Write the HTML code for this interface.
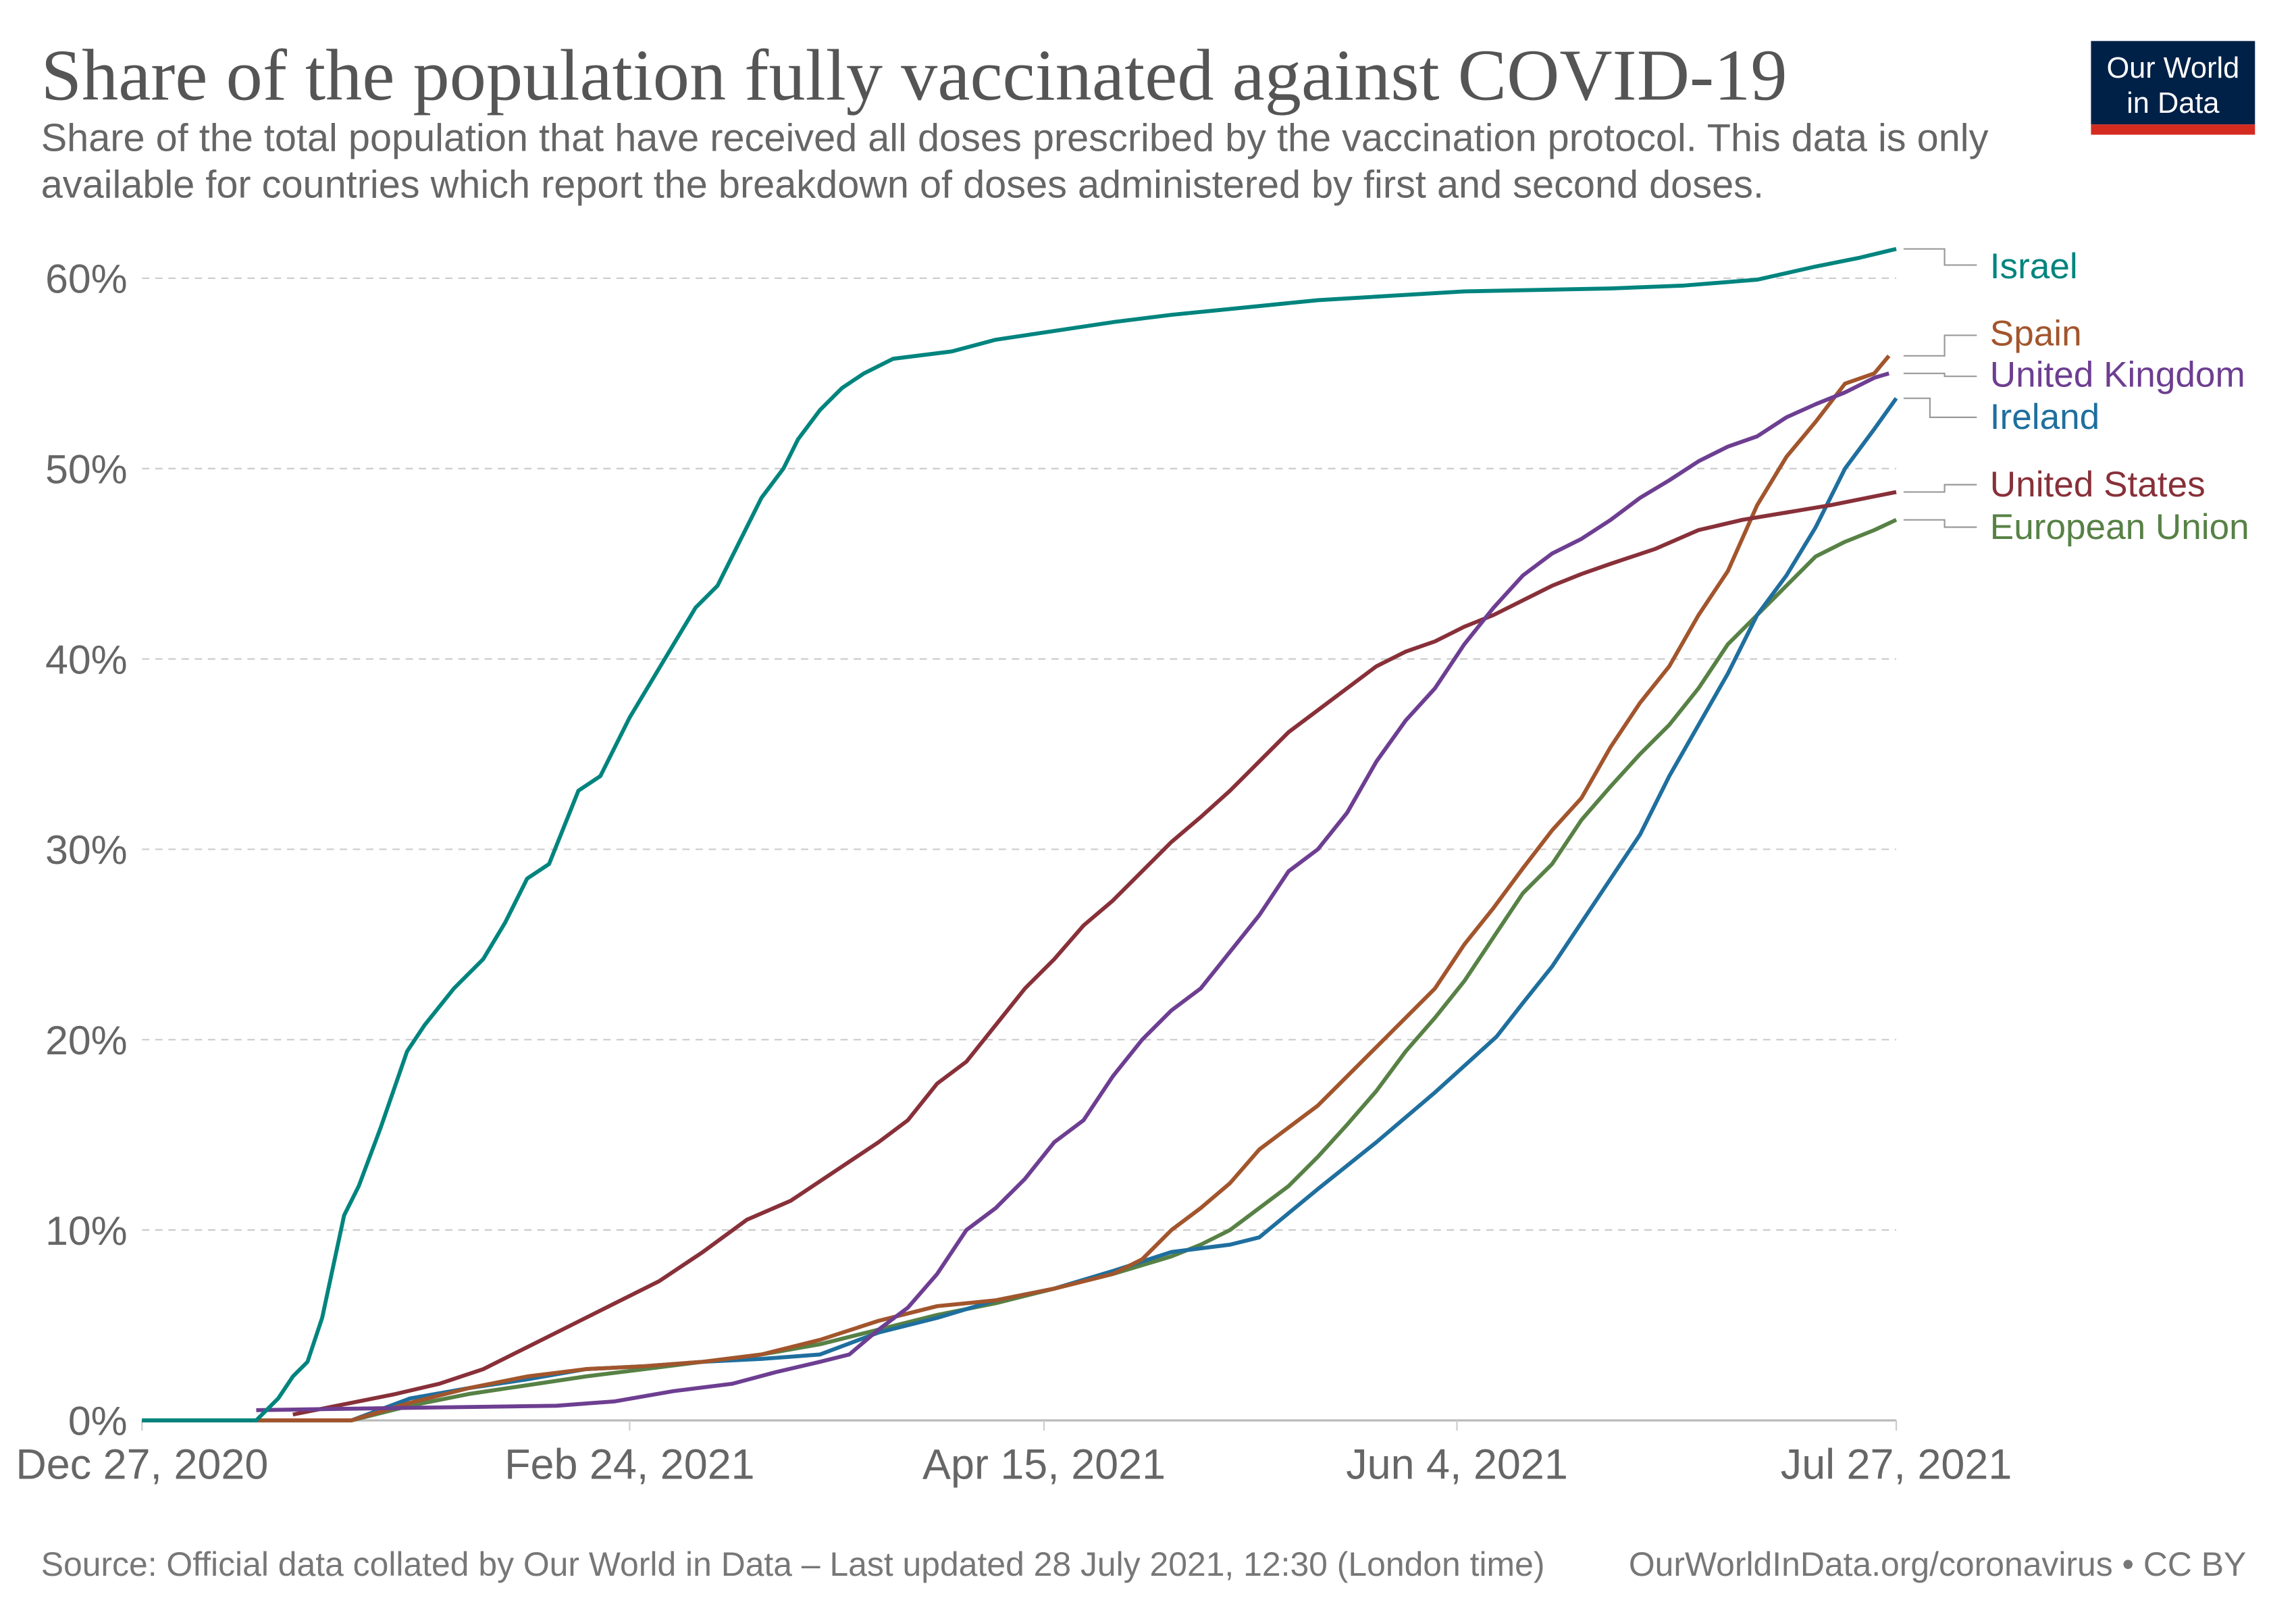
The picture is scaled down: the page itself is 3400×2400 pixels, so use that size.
<!DOCTYPE html>
<html><head><meta charset="utf-8"><style>
html,body{margin:0;padding:0;background:#fff}
svg{display:block}
text{font-family:"Liberation Sans",sans-serif}
</style></head><body>
<svg width="3400" height="2400" viewBox="0 0 1568 1107" preserveAspectRatio="none" xmlns="http://www.w3.org/2000/svg">
<rect width="1568" height="1107" fill="#fff"/>
<text x="28" y="68" font-size="50" fill="#555" style="font-family:'Liberation Serif',serif">Share of the population fully vaccinated against COVID-19</text>
<text x="28" y="103" font-size="26.6" fill="#666">Share of the total population that have received all doses prescribed by the vaccination protocol. This data is only</text>
<text x="28" y="135" font-size="26.6" fill="#666">available for countries which report the breakdown of doses administered by first and second doses.</text>
<rect x="1428" y="28" width="112" height="57" fill="#002147"/>
<rect x="1428" y="85" width="112" height="7" fill="#d42b21"/>
<text x="1484" y="53" font-size="20" fill="#fff" text-anchor="middle">Our World</text>
<text x="1484" y="77" font-size="20" fill="#fff" text-anchor="middle">in Data</text>
<g stroke="#ccc" stroke-dasharray="5,4" stroke-width="1">
<line x1="97" x2="1295" y1="190" y2="190"/><line x1="97" x2="1295" y1="320" y2="320"/>
<line x1="97" x2="1295" y1="450" y2="450"/><line x1="97" x2="1295" y1="580" y2="580"/>
<line x1="97" x2="1295" y1="710" y2="710"/><line x1="97" x2="1295" y1="840" y2="840"/>
</g>
<line x1="97" x2="1295" y1="970" y2="970" stroke="#bbb" stroke-width="1.5"/>
<g stroke="#ccc" stroke-width="1"><line x1="97" x2="97" y1="970" y2="977"/><line x1="430" x2="430" y1="970" y2="977"/><line x1="713" x2="713" y1="970" y2="977"/><line x1="995" x2="995" y1="970" y2="977"/><line x1="1295" x2="1295" y1="970" y2="977"/></g>
<g font-size="28" fill="#666" text-anchor="end">
<text x="87" y="200">60%</text><text x="87" y="330">50%</text><text x="87" y="460">40%</text>
<text x="87" y="590">30%</text><text x="87" y="720">20%</text><text x="87" y="850">10%</text><text x="87" y="980">0%</text>
</g>
<g font-size="29" fill="#666" text-anchor="middle">
<text x="97" y="1010">Dec 27, 2020</text><text x="430" y="1010">Feb 24, 2021</text><text x="713" y="1010">Apr 15, 2021</text><text x="995" y="1010">Jun 4, 2021</text><text x="1295" y="1010">Jul 27, 2021</text>
</g>
<g fill="none" stroke-width="2.7" stroke-linejoin="round">
<polyline stroke="#578145" points="97,970 240,970 280,960 320,952 360,946 400,940 440,935 480,930 520,925 560,918 600,908 640,898 680,890 720,880 760,870 800,858 820,850 840,840 860,825 880,810 900,790 920,768 940,745 960,718 980,695 1000,670 1020,640 1040,610 1060,590 1080,560 1100,537 1120,515 1140,495 1160,470 1180,440 1200,420 1220,400 1240,380 1260,370 1280,362 1295,355"/>
<polyline stroke="#1f6f9e" points="97,970 240,970 280,955 320,948 360,942 400,935 440,933 480,930 520,928 560,925 600,910 640,900 680,888 720,880 760,868 800,855 840,850 860,845 900,812 940,780 980,746 1022,708 1040,685 1060,660 1080,630 1100,600 1120,570 1140,530 1160,495 1180,460 1200,420 1220,393 1240,360 1260,320 1280,293 1295,272"/>
<polyline stroke="#a2552c" points="97,970 240,970 280,958 320,948 360,940 400,935 440,933 480,930 520,925 560,915 600,902 640,892 680,888 720,880 760,870 780,860 800,840 820,825 840,808 860,785 880,770 900,755 920,735 940,715 960,695 980,675 1000,645 1020,620 1040,593 1060,567 1080,545 1100,510 1120,480 1140,455 1160,420 1180,390 1200,345 1220,312 1240,288 1260,262 1280,255 1290,243"/>
<polyline stroke="#883039" points="200,966 240,958 270,952 300,945 330,935 360,920 390,905 420,890 450,875 480,855 510,833 540,820 570,800 600,780 620,765 640,740 660,725 680,700 700,675 720,655 740,632 760,615 780,595 800,575 820,558 840,540 860,520 880,500 900,485 920,470 940,455 960,445 980,438 1000,428 1020,420 1040,410 1060,400 1080,392 1100,385 1130,375 1160,362 1190,355 1220,350 1250,345 1295,336"/>
<polyline stroke="#6d3e91" points="175,963 240,962 380,960 420,957 460,950 500,945 530,937 560,930 580,925 600,908 620,893 640,870 660,840 680,825 700,805 720,780 740,765 760,735 780,710 800,690 820,675 840,650 860,625 880,595 900,580 920,555 940,520 960,492 980,470 1000,440 1020,415 1040,393 1060,378 1080,368 1100,355 1120,340 1140,328 1160,315 1180,305 1200,298 1220,285 1240,276 1260,268 1280,258 1290,255"/>
<polyline stroke="#00847e" points="97,970 175,970 190,955 200,940 210,930 220,900 235,830 245,810 260,770 278,718 290,700 310,675 330,655 345,630 360,600 375,590 395,540 410,530 430,490 445,465 460,440 475,415 490,400 505,370 520,340 535,320 545,300 560,280 575,265 590,255 610,245 650,240 680,232 720,226 760,220 800,215 850,210 900,205 1000,199 1100,197 1150,195 1200,191 1240,182 1270,176 1295,170"/>
</g>
<g fill="none" stroke="#999" stroke-width="1">
<polyline points="1300,170 1328,170 1328,181 1350,181"/>
<polyline points="1300,243 1328,243 1328,229 1350,229"/>
<polyline points="1300,255 1328,255 1328,257 1350,257"/>
<polyline points="1300,272 1318,272 1318,285 1350,285"/>
<polyline points="1300,336 1328,336 1328,331 1350,331"/>
<polyline points="1300,355 1328,355 1328,360 1350,360"/>
</g>
<g font-size="24.5">
<text x="1359" y="190" fill="#00847e">Israel</text>
<text x="1359" y="236" fill="#a2552c">Spain</text>
<text x="1359" y="264" fill="#6d3e91">United Kingdom</text>
<text x="1359" y="293" fill="#1f6f9e">Ireland</text>
<text x="1359" y="339" fill="#883039">United States</text>
<text x="1359" y="368" fill="#578145">European Union</text>
</g>
<text x="28" y="1076" font-size="23" fill="#777">Source: Official data collated by Our World in Data – Last updated 28 July 2021, 12:30 (London time)</text>
<text x="1534" y="1076" font-size="23" fill="#777" text-anchor="end">OurWorldInData.org/coronavirus • CC BY</text>
</svg>
</body></html>
